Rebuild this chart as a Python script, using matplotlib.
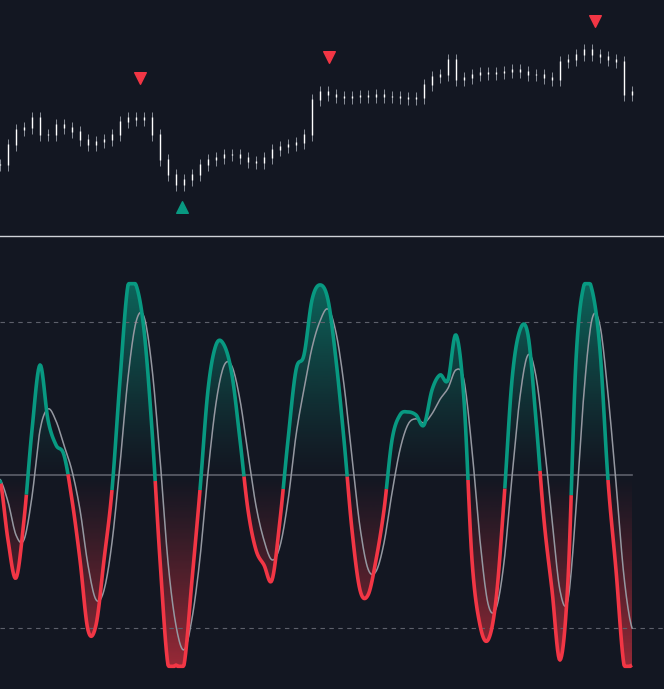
import numpy as np
import matplotlib
matplotlib.use("Agg")
import matplotlib.pyplot as plt
from matplotlib.path import Path
from matplotlib.patches import PathPatch

BG = "#131722"; GREEN = "#089981"; RED = "#f23645"

osc_px = [480,540,578,520,430,365,420,445,455,500,560,630,625,560,490,380,285,285,330,430,
          560,665,665,665,580,490,390,345,345,375,440,510,550,565,580,520,440,370,355,300,
          285,300,360,440,530,590,595,560,510,440,415,412,415,425,390,375,380,335,400,560,
          625,640,600,500,380,330,335,420,520,590,660,580,360,285,290,350,480,570,665,665]
osc = np.array([(475 - p) / 2.55 for p in osc_px])
price_px = [165,145,130,128,118,135,135,125,128,132,140,145,142,140,135,122,118,120,118,135,
            160,175,185,180,175,165,160,158,155,155,158,162,163,158,150,147,145,143,135,100,
            92,95,97,98,97,96,97,95,97,97,98,99,98,85,77,75,60,80,78,75,
            73,74,73,72,70,72,75,75,78,80,62,60,55,50,55,57,60,62,95,92]
price = np.array([237 - p for p in price_px], float)
sell_x = [17.5, 41.1, 74.4]; sell_y = [159, 180, 216]
buy_x = [22.75]; buy_y = [30]

# signal: short weighted moving average of the oscillator
w = [0.4, 0.35, 0.25]
sig = np.array([sum(w[k] * osc[max(i - k, 0)] for k in range(3)) for i in range(len(osc))])
sig = sig * 0.92
x = np.arange(len(osc), dtype=float)

def smooth(xs, ys, n=10):
    p = np.concatenate([[ys[0]], ys, [ys[-1]]])
    out_x, out_y = [], []
    for i in range(len(ys) - 1):
        p0, p1, p2, p3 = p[i], p[i+1], p[i+2], p[i+3]
        t = np.linspace(0, 1, n, endpoint=False)
        out_y.append(0.5 * (2*p1 + (-p0+p2)*t + (2*p0-5*p1+4*p2-p3)*t**2 + (-p0+3*p1-3*p2+p3)*t**3))
        out_x.append(xs[i] + t * (xs[i+1] - xs[i]))
    out_x.append([xs[-1]]); out_y.append([ys[-1]])
    return np.concatenate(out_x), np.clip(np.concatenate(out_y), -75, 75)

fig = plt.figure(figsize=(6.64, 6.89), dpi=100, facecolor=BG)
ax1 = fig.add_axes([0, 1 - 237/689, 1, 237/689]); ax2 = fig.add_axes([0, 0, 1, 452/689])
for a in (ax1, ax2):
    a.set_facecolor(BG); a.set_xticks([]); a.set_yticks([])
    for s in a.spines.values(): s.set_visible(False)
    a.set_xlim(0, 83)

for i in range(len(price)):
    o = price[i-1] if i else price[i]
    c = price[i]
    lo, hi = min(o, c), max(o, c)
    ax1.vlines(x[i], lo - 6, hi + 6, color="#8a8f99", lw=0.7)
    ax1.vlines(x[i], lo, hi + 1, color="white", lw=1.0)
ax1.scatter(sell_x, sell_y, marker="v", s=70, color=RED, zorder=3)
ax1.scatter(buy_x, buy_y, marker="^", s=70, color=GREEN, zorder=3)
ax1.set_ylim(0, 237)
fig.add_artist(plt.Line2D([0, 1], [1 - 236/689]*2, color="#d0d3d8", lw=1))

ax2.set_ylim(-83.9, 93.3)
ax2.axhline(60, color="#5d606b", ls=(0, (4, 4)), lw=0.8)
ax2.axhline(-60, color="#5d606b", ls=(0, (4, 4)), lw=0.8)
ax2.plot([0, 79], [0, 0], color="#5d606b", lw=1.2)

xf, of = smooth(x, osc)
_, sf = smooth(x, sig)

def grad_fill(pos, color):
    y = np.where(pos, np.maximum(of, 0), np.minimum(of, 0))
    verts = [(xf[0], 0)] + list(zip(xf, y)) + [(xf[-1], 0)]
    patch = PathPatch(Path(verts), fc="none", ec="none")
    ax2.add_patch(patch)
    rgb = matplotlib.colors.to_rgb(color)
    yy = np.linspace(0, 1, 200)[:, None]
    img = np.zeros((200, 1, 4)); img[..., :3] = rgb
    img[..., 3] = (yy ** 1.2) * 0.6
    if pos:
        im = ax2.imshow(img, extent=[0, 79, 0, 75], origin="lower", aspect="auto", zorder=1)
    else:
        im = ax2.imshow(img[::-1], extent=[0, 79, -75, 0], origin="lower", aspect="auto", zorder=1)
    im.set_clip_path(patch)

grad_fill(True, GREEN); grad_fill(False, RED)
ax2.plot(xf, sf, color="#9598a1", lw=1.1, zorder=3)

# colour state: turns green on the way up a little below zero, red on the way down near zero
up = np.zeros(len(of), bool)
state = of[0] > 0
for i in range(len(of)):
    if not state and of[i] > -8 and (i == 0 or of[i] > of[i-1]):
        state = True
    elif state and of[i] < 2 and (i > 0 and of[i] < of[i-1]):
        state = False
    up[i] = state
start = 0
for i in range(1, len(xf) + 1):
    if i == len(xf) or up[i] != up[start]:
        end = min(i, len(xf) - 1)
        ax2.plot(xf[start:end+1], of[start:end+1], color=GREEN if up[start] else RED,
                 lw=2.6, solid_capstyle="butt", zorder=4)
        start = i
fig.savefig("out.png", dpi=100, facecolor=BG)
